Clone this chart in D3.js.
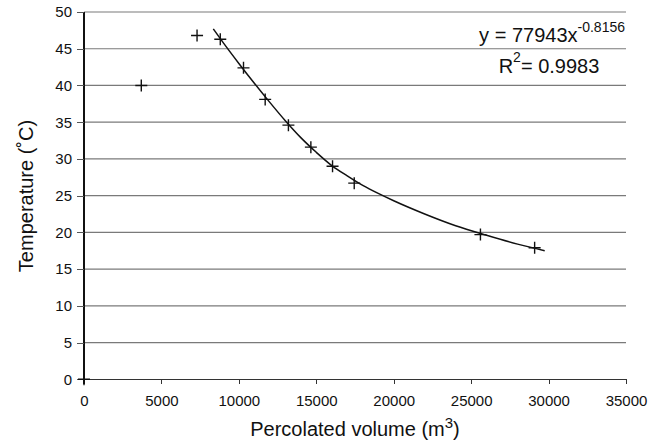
<meta charset="utf-8">
<title>Temperature vs percolated volume</title>
<script src="https://d3js.org/d3.v7.min.js"></script>
<style>
  body { margin: 0; background: #fff; }
  svg text { font-family: "Liberation Sans", Arial, Helvetica, sans-serif; fill: #111; }
</style>
<body>
<svg width="657" height="444"></svg>
<script>
  // measured points
  const volume = [0, 3700, 7300, 8800, 10300, 11700, 13200, 14650, 16050, 17450, 25600, 29100]
  const temperature = [0, 40, 46.8, 46.3, 42.4, 38.1, 34.6, 31.6, 29.0, 26.7, 19.7, 17.9]

  // power trendline as it is drawn
  const trendVolume = [8350, 9000, 10000, 11000, 12000, 13000, 14000, 15000, 16000, 17000, 18000, 19000, 20000, 22000, 24000, 26000, 28000, 29750]
  const trendTemp = [47.7, 45.8, 43.0, 40.3, 37.7, 35.2, 32.9, 30.9, 29.1, 27.7, 26.4, 25.3, 24.3, 22.5, 20.9, 19.6, 18.4, 17.5]

  const xTicks = [0, 5000, 10000, 15000, 20000, 25000, 30000, 35000]
  const yTicks = [0, 5, 10, 15, 20, 25, 30, 35, 40, 45, 50]

  const svg = d3.select('svg')

  const x = d3.scaleLinear().domain([0, 35000]).range([84, 626])
  const y = d3.scaleLinear().domain([0, 50]).range([379.3, 12])

  // gridlines
  svg.append('g')
    .selectAll('line')
    .data(yTicks.filter(d => d > 0))
    .join('line')
    .attr('x1', x(0)).attr('x2', x(35000))
    .attr('y1', d => y(d)).attr('y2', d => y(d))
    .attr('stroke', '#7a7a7a')
    .attr('stroke-width', 1.2)

  // axes
  const xAxis = svg.append('g')
    .attr('transform', `translate(0,${y(0)})`)
    .call(d3.axisBottom(x).tickValues(xTicks).tickSize(5).tickSizeOuter(0).tickFormat(d3.format('d')))
  xAxis.select('.domain').attr('stroke', '#333').attr('stroke-width', 1.2)
  xAxis.selectAll('.tick line').attr('stroke', '#333')
  xAxis.selectAll('text').attr('font-size', 15).attr('dy', '1.25em').attr('fill', '#111')

  const yAxis = svg.append('g')
    .attr('transform', `translate(${x(0)},0)`)
    .call(d3.axisLeft(y).tickValues(yTicks).tickSize(7).tickSizeOuter(0))
  yAxis.select('.domain').attr('stroke', '#111').attr('stroke-width', 1.2)
    .attr('d', `M0,${y(50)}V${y(0) + 5}`)
  yAxis.selectAll('.tick line').attr('stroke', '#555')
  yAxis.selectAll('text').attr('font-size', 15).attr('x', -12).attr('fill', '#111')

  svg.selectAll('.domain, .tick line').attr('shape-rendering', 'crispEdges')

  // trendline
  const line = d3.line()
    .x((d, i) => x(trendVolume[i]))
    .y(d => y(d))
    .curve(d3.curveMonotoneX)

  svg.append('path')
    .attr('d', line(trendTemp))
    .attr('fill', 'none')
    .attr('stroke', '#111')
    .attr('stroke-width', 1.5)

  // markers (+)
  const pts = volume.map((v, i) => [v, temperature[i]])
  const marks = svg.append('g').selectAll('g').data(pts).join('g')
    .attr('transform', d => `translate(${x(d[0])},${y(d[1])})`)
  marks.append('path')
    .attr('d', 'M-6,0H6M0,-6V6')
    .attr('stroke', '#111')
    .attr('stroke-width', 1.4)

  // equation
  const eq = svg.append('text')
    .attr('x', 625).attr('y', 42)
    .attr('text-anchor', 'end')
    .attr('font-size', 20)
  eq.append('tspan').text('y = 77943x')
  eq.append('tspan').attr('dy', -10).attr('font-size', 14).text('-0.8156')

  const r2 = svg.append('text')
    .attr('x', 549).attr('y', 73)
    .attr('text-anchor', 'middle')
    .attr('font-size', 20)
  r2.append('tspan').text('R')
  r2.append('tspan').attr('dy', -11).attr('font-size', 14).text('2')
  r2.append('tspan').attr('dy', 11).text('= 0.9983')

  // axis titles
  const xt = svg.append('text')
    .attr('x', 355).attr('y', 436)
    .attr('text-anchor', 'middle')
    .attr('font-size', 20)
  xt.append('tspan').text('Percolated volume (m')
  xt.append('tspan').attr('dy', -8).attr('font-size', 15).text('3')
  xt.append('tspan').attr('dy', 8).text(')')

  svg.append('text')
    .attr('transform', 'translate(33,196) rotate(-90)')
    .attr('text-anchor', 'middle')
    .attr('font-size', 20)
    .text('Temperature (˚C)')
</script>
</body>
